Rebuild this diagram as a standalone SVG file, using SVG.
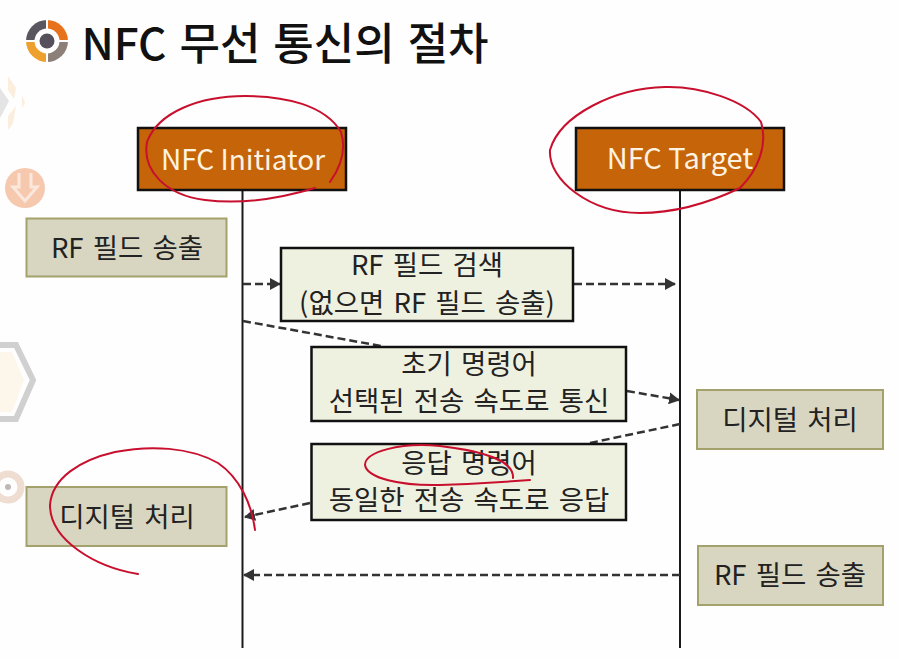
<svg xmlns="http://www.w3.org/2000/svg" width="899" height="659" viewBox="0 0 899 659">
<style>
text{font-family:"Noto Sans CJK KR","Noto Sans",sans-serif;text-anchor:middle;fill:#222}
.t{font-size:27.500px;word-spacing:3px;fill:#222}
.h{font-size:29px;fill:#fdf3e0}
.head{fill:#c56408;stroke:#111;stroke-width:2.500}
.proc{fill:#d8d6c1;stroke:#a3a16c;stroke-width:2}
.msg{fill:#eff1e0;stroke:#111;stroke-width:2.500}
.life{stroke:#1a1a1a;stroke-width:2;fill:none}
.dash{stroke:#333;stroke-width:2.500;stroke-dasharray:8 4;fill:none}
.red{stroke:#c8102e;stroke-width:2;fill:none;stroke-linecap:round}
</style>
<defs>
<marker id="ah" markerUnits="userSpaceOnUse" markerWidth="12" markerHeight="12" refX="10" refY="6" orient="auto"><path d="M0 0L11 6L0 12Z" fill="#333"/></marker>
</defs>
<rect width="899" height="659" fill="#fefefe"/>
<g id="decor">
<path d="M0 88L9 101L0 118Z" fill="#e4e4e4"/>
<path d="M8 76L16 88L14 99L8 90Z M8 116L16 106L13 123L8 130Z M22 95L25 103L22 108Z" fill="#fbeedd"/>
<circle cx="25" cy="188" r="20" fill="#f6c9ae"/>
<path d="M19 173V187H13L25 201L37 187H31V173" fill="none" stroke="#fbe8dc" stroke-width="3"/>
<path d="M0 345H16L33 380L16 419H0" fill="none" stroke="#d0d0d0" stroke-width="6"/>
<path d="M0 352H12L24 380L12 412H0Z" fill="#fdf6ea"/>
<circle cx="8" cy="487" r="13" fill="none" stroke="#eeddd0" stroke-width="7"/>
<circle cx="8" cy="487" r="3" fill="#c0b8b8"/>
</g>
<g id="title">
<g id="logo">
<path d="M47 41L47 20A21 21 0 0 0 26 41Z" fill="#5a5660"/>
<path d="M47 41L47 20A21 21 0 0 1 68 41Z" fill="#e8721c"/>
<path d="M47 41L26 41A21 21 0 0 0 47 62Z" fill="#eea02e"/>
<path d="M47 41L68 41A21 21 0 0 1 47 62Z" fill="#8c8078"/>
<path d="M47 18V64M24 41H70" stroke="#fff" stroke-width="2"/>
<circle cx="47" cy="41" r="12.500" fill="#fff"/>
<circle cx="47" cy="41" r="7.500" fill="#55505c"/>
</g>
<text x="285" y="60" font-size="44" font-weight="500" word-spacing="3" style="fill:#111">NFC 무선 통신의 절차</text>
</g>
<g id="connectors">
<path class="life" d="M242.500 190V648"/>
<path class="life" d="M680 190V648"/>
<path class="dash" d="M243 284H280" marker-end="url(#ah)"/>
<path class="dash" d="M574 284H675" marker-end="url(#ah)"/>
<path class="dash" d="M243 321L381 346"/>
<path class="dash" d="M627 391L679 400" marker-end="url(#ah)"/>
<path class="dash" d="M680 424L590 443"/>
<path class="dash" d="M310 503L245 517" marker-end="url(#ah)"/>
<path class="dash" d="M680 575H244" marker-end="url(#ah)"/>
</g>
<g id="node-initiator"><rect class="head" x="138" y="128" width="208" height="62"/><text class="h" x="243" y="170" style="font-size:28px">NFC Initiator</text></g>
<g id="node-target"><rect class="head" x="576" y="128" width="208" height="62"/><text class="h" x="680" y="169">NFC Target</text></g>
<g id="node-rf-left"><rect class="proc" x="26.500" y="218.500" width="200" height="58"/><text class="t" x="127" y="258">RF 필드 송출</text></g>
<g id="node-search"><rect class="msg" x="281" y="248" width="292" height="73"/><text class="t" x="427" y="275">RF 필드 검색</text><text class="t" x="427" y="313">(없으면 RF 필드 송출)</text></g>
<g id="node-init-cmd"><rect class="msg" x="311.500" y="347" width="314.500" height="74"/><text class="t" x="469" y="374">초기 명령어</text><text class="t" x="469" y="411">선택된 전송 속도로 통신</text></g>
<g id="node-resp-cmd"><rect class="msg" x="311.500" y="444" width="314.500" height="76"/><text class="t" x="469" y="473">응답 명령어</text><text class="t" x="469" y="510">동일한 전송 속도로 응답</text></g>
<g id="node-digital-right"><rect class="proc" x="697" y="390" width="186" height="59"/><text class="t" x="790" y="430">디지털 처리</text></g>
<g id="node-digital-left"><rect class="proc" x="26.500" y="487" width="200" height="59"/><text class="t" x="127" y="527">디지털 처리</text></g>
<g id="node-rf-right"><rect class="proc" x="698" y="546" width="185" height="59"/><text class="t" x="790" y="585">RF 필드 송출</text></g>
<g id="annotations">
<path class="red" d="M330 182C342 165 346 148 341 132C325 105 285 96 245 96C200 96 158 112 147 142C142 170 165 195 205 200C245 205 285 197 315 188"/>
<path class="red" d="M740 188C758 170 768 145 761 122C745 100 700 86 665 87C615 88 560 115 550 150C548 180 590 213 640 213C680 213 715 200 740 188"/>
<path class="red" d="M255 530C252 505 240 478 218 463C190 447 150 445 115 452C80 460 52 478 50 505C50 540 95 567 138 574"/>
<path class="red" d="M513 478C514 462 490 452 440 446C400 442 365 452 365 465C367 478 400 486 440 485C470 484 505 482 530 480"/>
</g>
</svg>
